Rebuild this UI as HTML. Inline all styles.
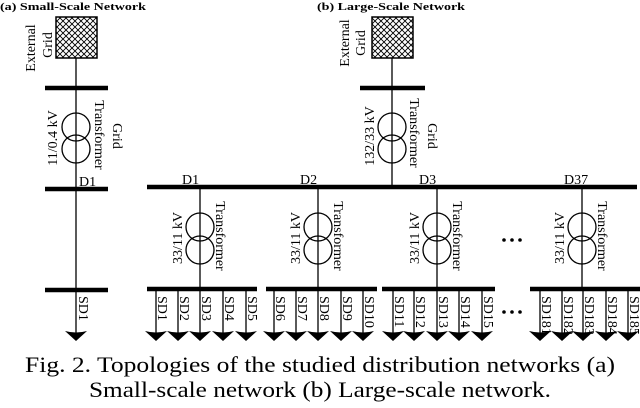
<!DOCTYPE html>
<html><head><meta charset="utf-8"><style>
html,body{margin:0;padding:0;background:#fff;}
svg{display:block;font-family:"Liberation Serif",serif;}
</style></head><body>
<svg id="s" width="640" height="408" viewBox="0 0 640 408" xmlns="http://www.w3.org/2000/svg">
<defs>
<pattern id="hatch" width="6" height="6" patternUnits="userSpaceOnUse">
<path d="M0,0L6,6M6,0L0,6" stroke="#000" stroke-width="0.9"/>
</pattern>
</defs>
<text x="0" y="10" font-size="11" font-weight="bold" textLength="146" lengthAdjust="spacingAndGlyphs">(a) Small-Scale Network</text>
<text x="317" y="10" font-size="11" font-weight="bold" textLength="148" lengthAdjust="spacingAndGlyphs">(b) Large-Scale Network</text>
<text x="320" y="372" font-size="22" text-anchor="middle" textLength="590" lengthAdjust="spacingAndGlyphs">Fig. 2. Topologies of the studied distribution networks (a)</text>
<text x="320" y="397" font-size="22" text-anchor="middle" textLength="462" lengthAdjust="spacingAndGlyphs">Small-scale network (b) Large-scale network.</text>
<g id="g" stroke="#000" fill="none"></g>
</svg>
<script>
const g=document.getElementById('g');const NS='http://www.w3.org/2000/svg';
function el(t,a,txt){const e=document.createElementNS(NS,t);for(const k in a)e.setAttribute(k,a[k]);if(txt!==undefined)e.textContent=txt;g.appendChild(e);return e;}
function line(x1,y1,x2,y2,w){el('line',{x1,y1,x2,y2,'stroke-width':w||1.3});}
function bus(x1,x2,y){line(x1,y,x2,y,4.5);}
function txt(x,y,s,rot,anchor,size){el('text',{x,y,'font-size':size||14,fill:'#000',stroke:'none','text-anchor':anchor||'middle',transform:`rotate(${rot} ${x} ${y})`},s);}
function trafo(x,c1,c2,r){el('circle',{cx:x,cy:c1,r,'stroke-width':1.3});el('circle',{cx:x,cy:c2,r,'stroke-width':1.3});}
function load(x,ytop){el('path',{d:`M${x-11},${ytop} Q${x},${ytop+3} ${x+11},${ytop} L${x},${ytop+10} Z`,fill:'#000',stroke:'none'});}
function grid(x){el('rect',{x:x-20,y:17,width:41,height:41,fill:'url(#hatch)','stroke-width':1.5});}
// small network
grid(76);line(76,58,76,333);bus(45,108,88);trafo(76,127,149,14);bus(45,108,189);bus(45,108,290);
txt(35,48,'External',-90);txt(52,45,'Grid',-90);
txt(57,138,'11/0.4 kV',-90);txt(95,135,'Transformer',90);txt(113,136,'Grid',90);
el('text',{x:79,y:186,'font-size':14,fill:'#000',stroke:'none'},'D1');
txt(79,296,'SD1',90,'start');load(76,331);
// large
grid(392);line(392,58,392,187);bus(360,425,88);trafo(392,127,149,14);
txt(349,43,'External',-90);txt(365,43,'Grid',-90);
txt(374,136,'132/33 kV',-90);txt(410,133,'Transformer',90);txt(428,136,'Grid',90);
bus(147,637,187);
const feeders=[[200,147,257,[156,178,200,223,246],1,'D1'],[318,266,377,[274,296,318,341,363],6,'D2'],[437,382,495,[393,414,437,459,482],11,'D3'],[582,530,640,[540,562,583,606,628],181,'D37']];
feeders.forEach(([x,b1,b2,fs,n,lab])=>{
 line(x,187,x,290);trafo(x,227,250,14);bus(b1,b2,289);
 el('text',{x:x-18,y:184,'font-size':14,fill:'#000',stroke:'none'},lab);
 txt(x-18,238,'33/11 kV',-90);txt(x+16,236,'Transformer',90);
 fs.forEach((f,i)=>{line(f,289,f,333);txt(f+2,296,'SD'+(n+i),90,'start');load(f,331);});
});
[[504,240],[512,240],[520,240],[504,312],[512,312],[520,312]].forEach(([x,y])=>el('circle',{cx:x,cy:y,r:1.8,fill:'#000',stroke:'none'}));
</script>
</body></html>
